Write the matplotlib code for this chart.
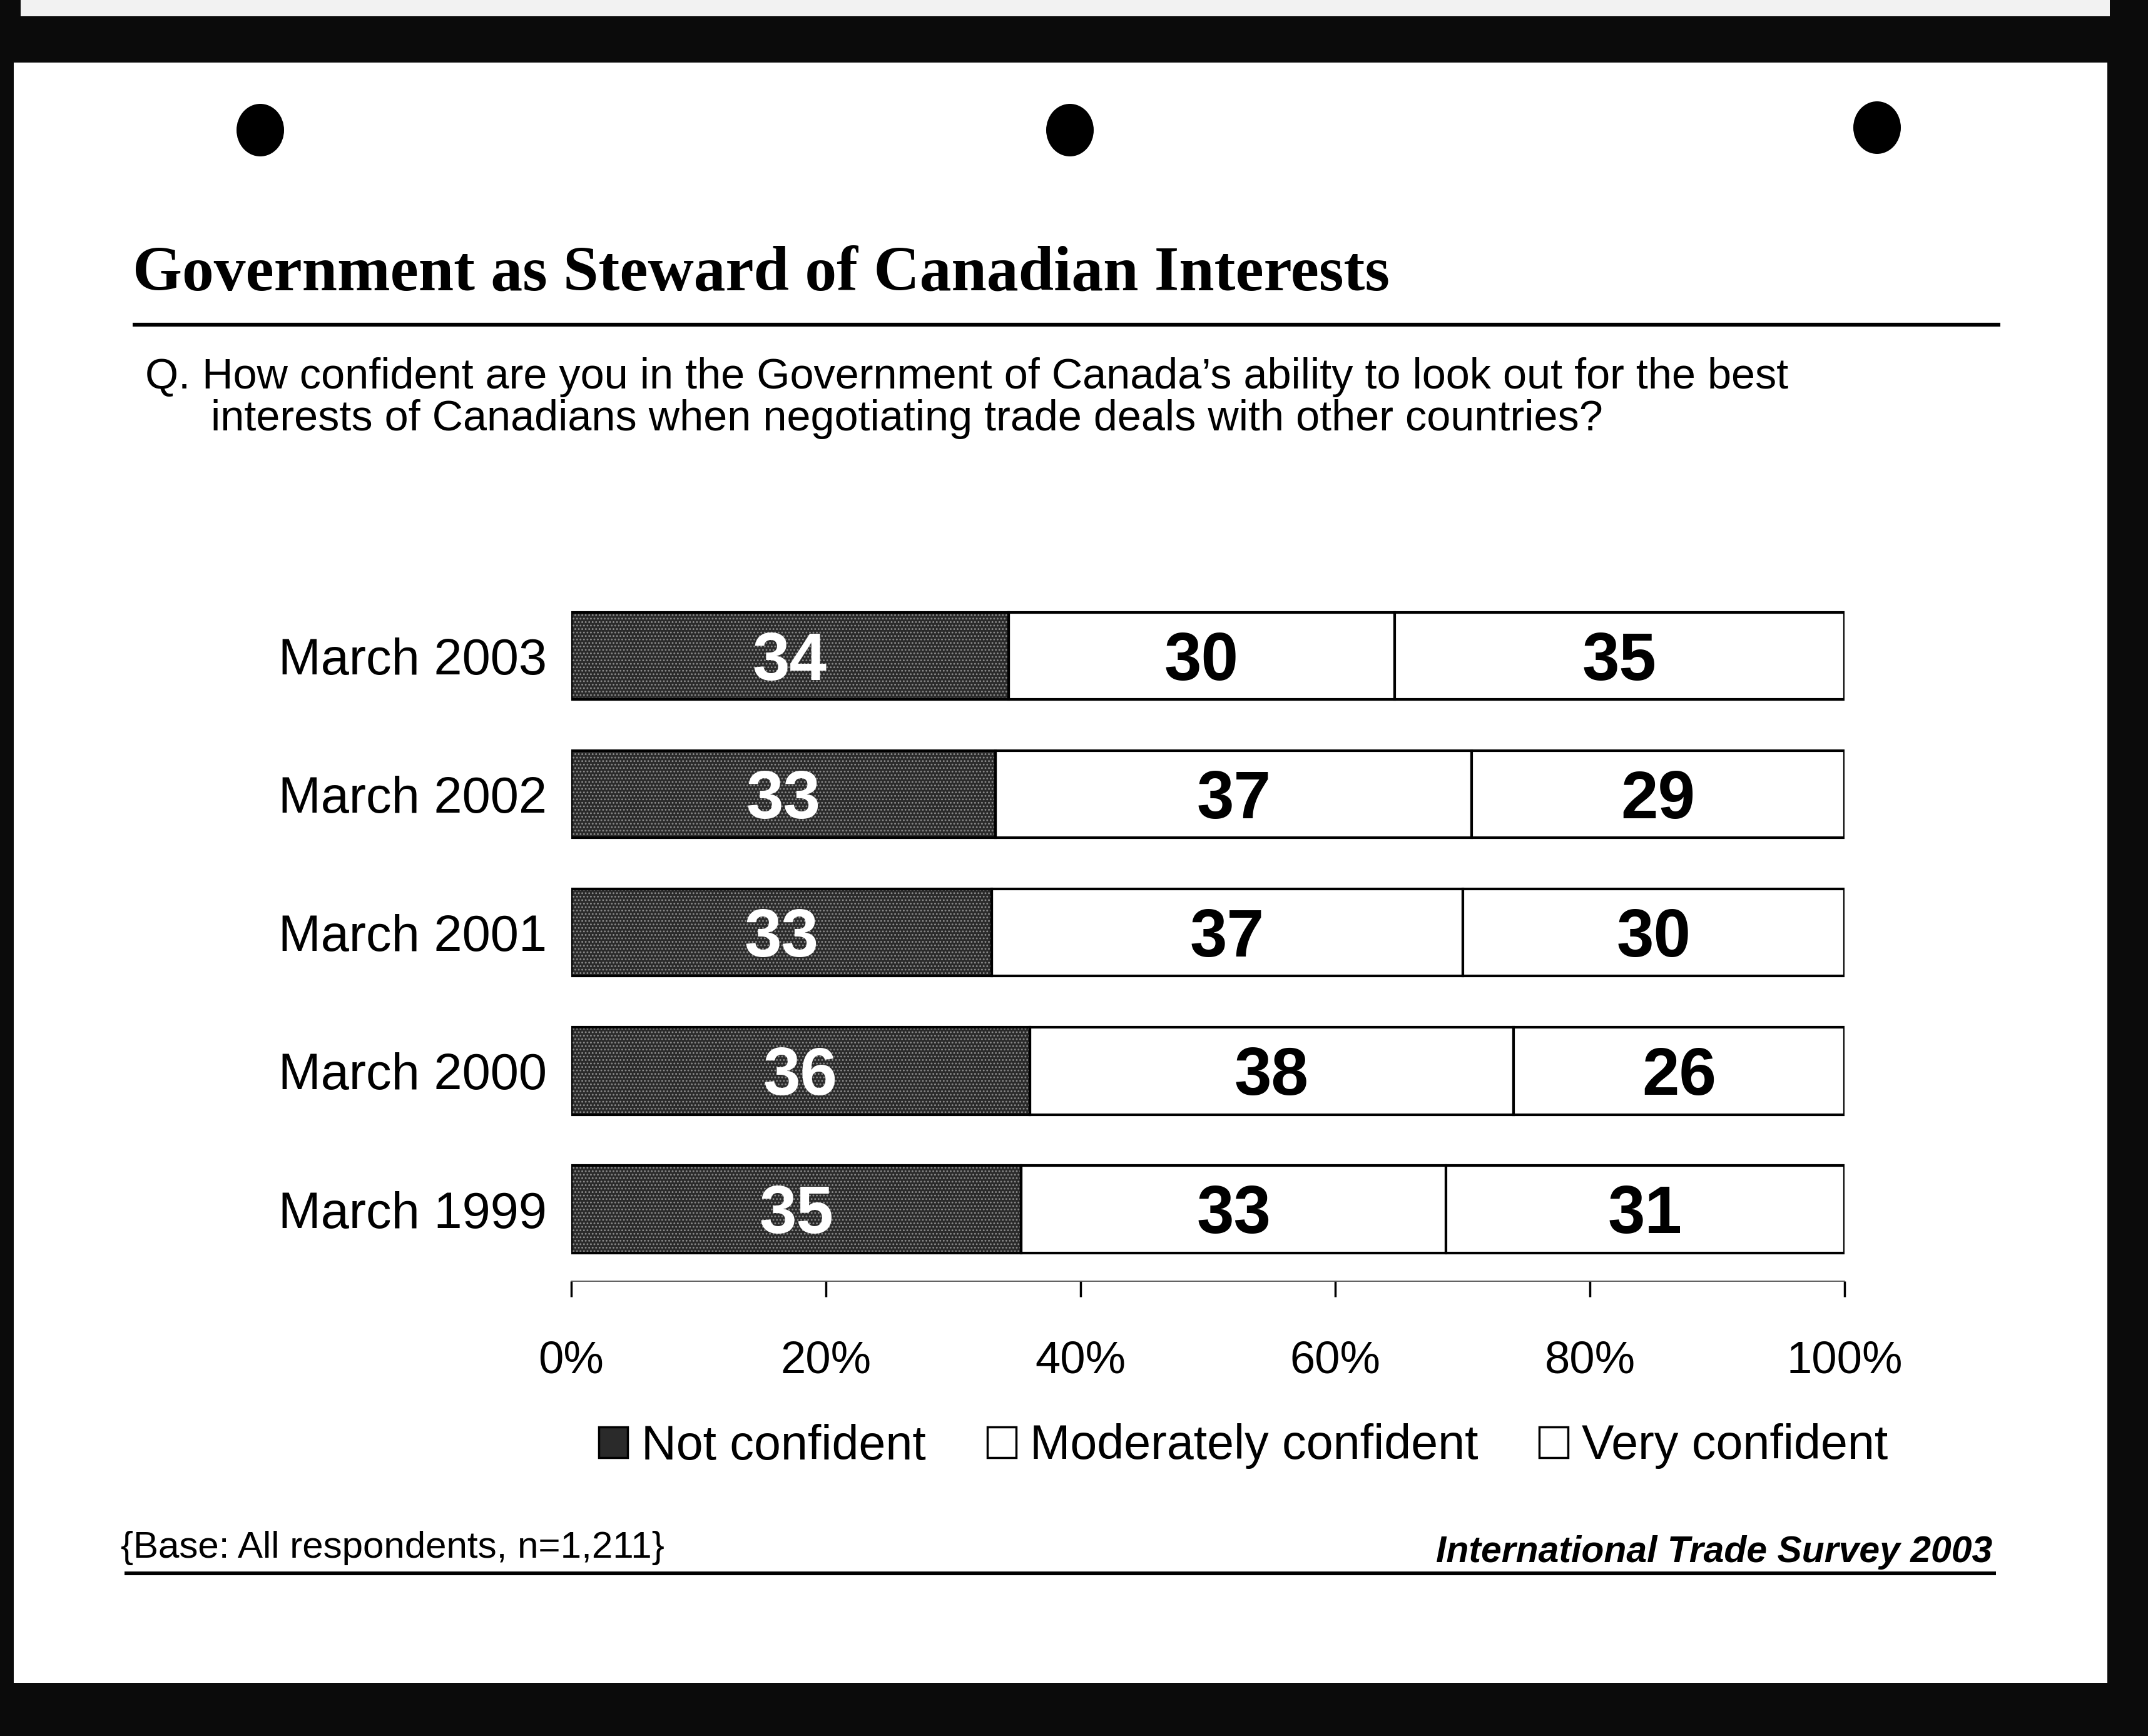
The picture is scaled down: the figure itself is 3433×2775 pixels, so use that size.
import matplotlib
matplotlib.use("Agg")
import matplotlib.pyplot as plt
import numpy as np
from matplotlib.patches import Rectangle, Ellipse, Patch
from matplotlib.lines import Line2D
from matplotlib.transforms import ScaledTranslation

# ---------------- data ----------------
categories = ["March 2003", "March 2002", "March 2001", "March 2000", "March 1999"]
not_confident = [34, 33, 33, 36, 35]
moderately_confident = [30, 37, 37, 38, 33]
very_confident = [35, 29, 30, 26, 31]
series_names = ["Not confident", "Moderately confident", "Very confident"]
xtick_values = [0, 20, 40, 60, 80, 100]
xtick_labels = ["0%", "20%", "40%", "60%", "80%", "100%"]

title = "Government as Steward of Canadian Interests"
question_1 = "Q. How confident are you in the Government of Canada\u2019s ability to look out for the best"
question_2 = "interests of Canadians when negotiating trade deals with other countries?"
base_note = "{Base: All respondents, n=1,211}"
source_note = "International Trade Survey 2003"

# ---------------- layout helpers ----------------
W, H = 3433, 2775
def fx(px):
    return px / W
def fy(py):
    return 1 - py / H

NARROW = ["Liberation Sans Narrow", "Liberation Sans", "DejaVu Sans"]
SANS = ["Liberation Sans", "DejaVu Sans"]
SERIF = ["Liberation Serif", "DejaVu Serif"]

DARK = "#2a2a2a"
SPECK = "#8c8c8c"
plt.rcParams["hatch.linewidth"] = 1.3

fig = plt.figure(figsize=(W / 100, H / 100), dpi=100, facecolor="#0b0b0b")
renderer = fig.canvas.get_renderer()

def size_for(s, target, **kw):
    t = fig.text(0, 0, s, fontsize=50, **kw)
    w = t.get_window_extent(renderer=renderer).width
    t.remove()
    return 50 * target / w

# page (scanned sheet) and punch holes
fig.add_artist(Rectangle((fx(22), fy(2690)), fx(3368) - fx(22), fy(100) - fy(2690),
                         transform=fig.transFigure, facecolor="white", edgecolor="none", zorder=-10))
fig.add_artist(Rectangle((fx(33), fy(26)), fx(3372) - fx(33), fy(0) - fy(26),
                         transform=fig.transFigure, facecolor="#f2f2f2", edgecolor="none", zorder=-10))
for cx, cy in [(416, 208), (1710, 208), (3000, 204)]:
    fig.add_artist(Ellipse((fx(cx), fy(cy)), 76 / W, 84 / H, transform=fig.transFigure,
                           facecolor="black", edgecolor="none", zorder=-5))

# ---------------- title & question ----------------
ts = size_for(title, 2010, family=SERIF, weight="bold")
fig.text(fx(212), fy(464), title, family=SERIF, weight="bold", fontsize=ts,
         ha="left", va="baseline", color="black")
fig.add_artist(Line2D([fx(212), fx(3197)], [fy(519), fy(519)], transform=fig.transFigure,
                      color="black", lw=4.5, solid_capstyle="butt"))

qs = size_for(question_1, 2612, family=NARROW) * 1.005
fig.text(fx(232), fy(621), question_1, family=NARROW, fontsize=qs, ha="left", va="baseline")
fig.text(fx(337), fy(688), question_2, family=NARROW, fontsize=qs, ha="left", va="baseline")

# ---------------- bars ----------------
ax = fig.add_axes([fx(913), fy(2048), fx(2948) - fx(913), fy(938) - fy(2048)])
ax.set_facecolor("none")

vals = np.array([not_confident, moderately_confident, very_confident], dtype=float)
totals = vals.sum(axis=0)
shares = vals / totals * 100
y = np.arange(len(categories))
bar_h = 0.63

value_fs = 77
cap_shift = ScaledTranslation(0, -0.716 * value_fs / 72 / 2, fig.dpi_scale_trans)

left = np.zeros(len(categories))
for k in range(3):
    if k == 0:
        ax.barh(y, shares[k], left=left, height=bar_h, color=DARK, edgecolor=SPECK,
                hatch="...", linewidth=0, zorder=2)
        ax.barh(y, shares[k], left=left, height=bar_h, color="none", edgecolor="black",
                linewidth=3, zorder=3)
    else:
        ax.barh(y, shares[k], left=left, height=bar_h, color="white", edgecolor="black",
                linewidth=3, zorder=2)
    for i in range(len(categories)):
        ax.text(left[i] + shares[k][i] / 2, y[i], f"{int(vals[k][i])}",
                ha="center", va="baseline", family=SANS, weight="bold", fontsize=value_fs,
                color="white" if k == 0 else "black", zorder=5,
                transform=ax.transData + cap_shift)
    left = left + shares[k]

ax.set_xlim(0, 100)
ax.set_ylim(len(categories) - 1 + 0.52, -0.5)

cat_fs = size_for("March 2003", 430, family=NARROW)
ax.set_yticks(y)
ax.set_yticklabels(categories, family=NARROW, fontsize=cat_fs)
ax.tick_params(axis="y", length=0, pad=28)

tick_fs = size_for("100%", 180, family=NARROW) * 1.03
ax.set_xticks(xtick_values)
ax.set_xticklabels(xtick_labels, family=NARROW, fontsize=tick_fs)
ax.tick_params(axis="x", direction="out", length=18, width=2.5, pad=50, color="black")

for side in ["top", "right", "left"]:
    ax.spines[side].set_visible(False)
ax.spines["bottom"].set_linewidth(1.2)
ax.spines["bottom"].set_color("#444444")

# ---------------- legend ----------------
leg_fs = size_for("Not confident", 455, family=NARROW)
leg_px = leg_fs * 100 / 72
handles = [
    Patch(facecolor=DARK, edgecolor="black", linewidth=2.5, label=series_names[0]),
    Patch(facecolor="white", edgecolor="black", linewidth=2.5, label=series_names[1]),
    Patch(facecolor="white", edgecolor="black", linewidth=2.5, label=series_names[2]),
]
fig.legend(handles=handles, loc="center left", bbox_to_anchor=(fx(957), fy(2312)),
           ncol=3, frameon=False, prop={"family": NARROW, "size": leg_fs},
           handlelength=46 / leg_px, handleheight=46 / leg_px,
           handletextpad=22 / leg_px, columnspacing=98 / leg_px,
           borderpad=0, borderaxespad=0)

# ---------------- footer ----------------
bs = size_for(base_note, 870, family=NARROW)
fig.text(fx(193), fy(2490), base_note, family=NARROW, fontsize=bs, ha="left", va="baseline")
ss = size_for(source_note, 890, family=NARROW, weight="bold", style="italic")
fig.text(fx(3184), fy(2497), source_note, family=NARROW, weight="bold", style="italic",
         fontsize=ss, ha="right", va="baseline")
fig.add_artist(Line2D([fx(199), fx(3190)], [fy(2515), fy(2515)], transform=fig.transFigure,
                      color="black", lw=4.3, solid_capstyle="butt"))

fig.savefig("out.png", dpi=100, facecolor=fig.get_facecolor())
